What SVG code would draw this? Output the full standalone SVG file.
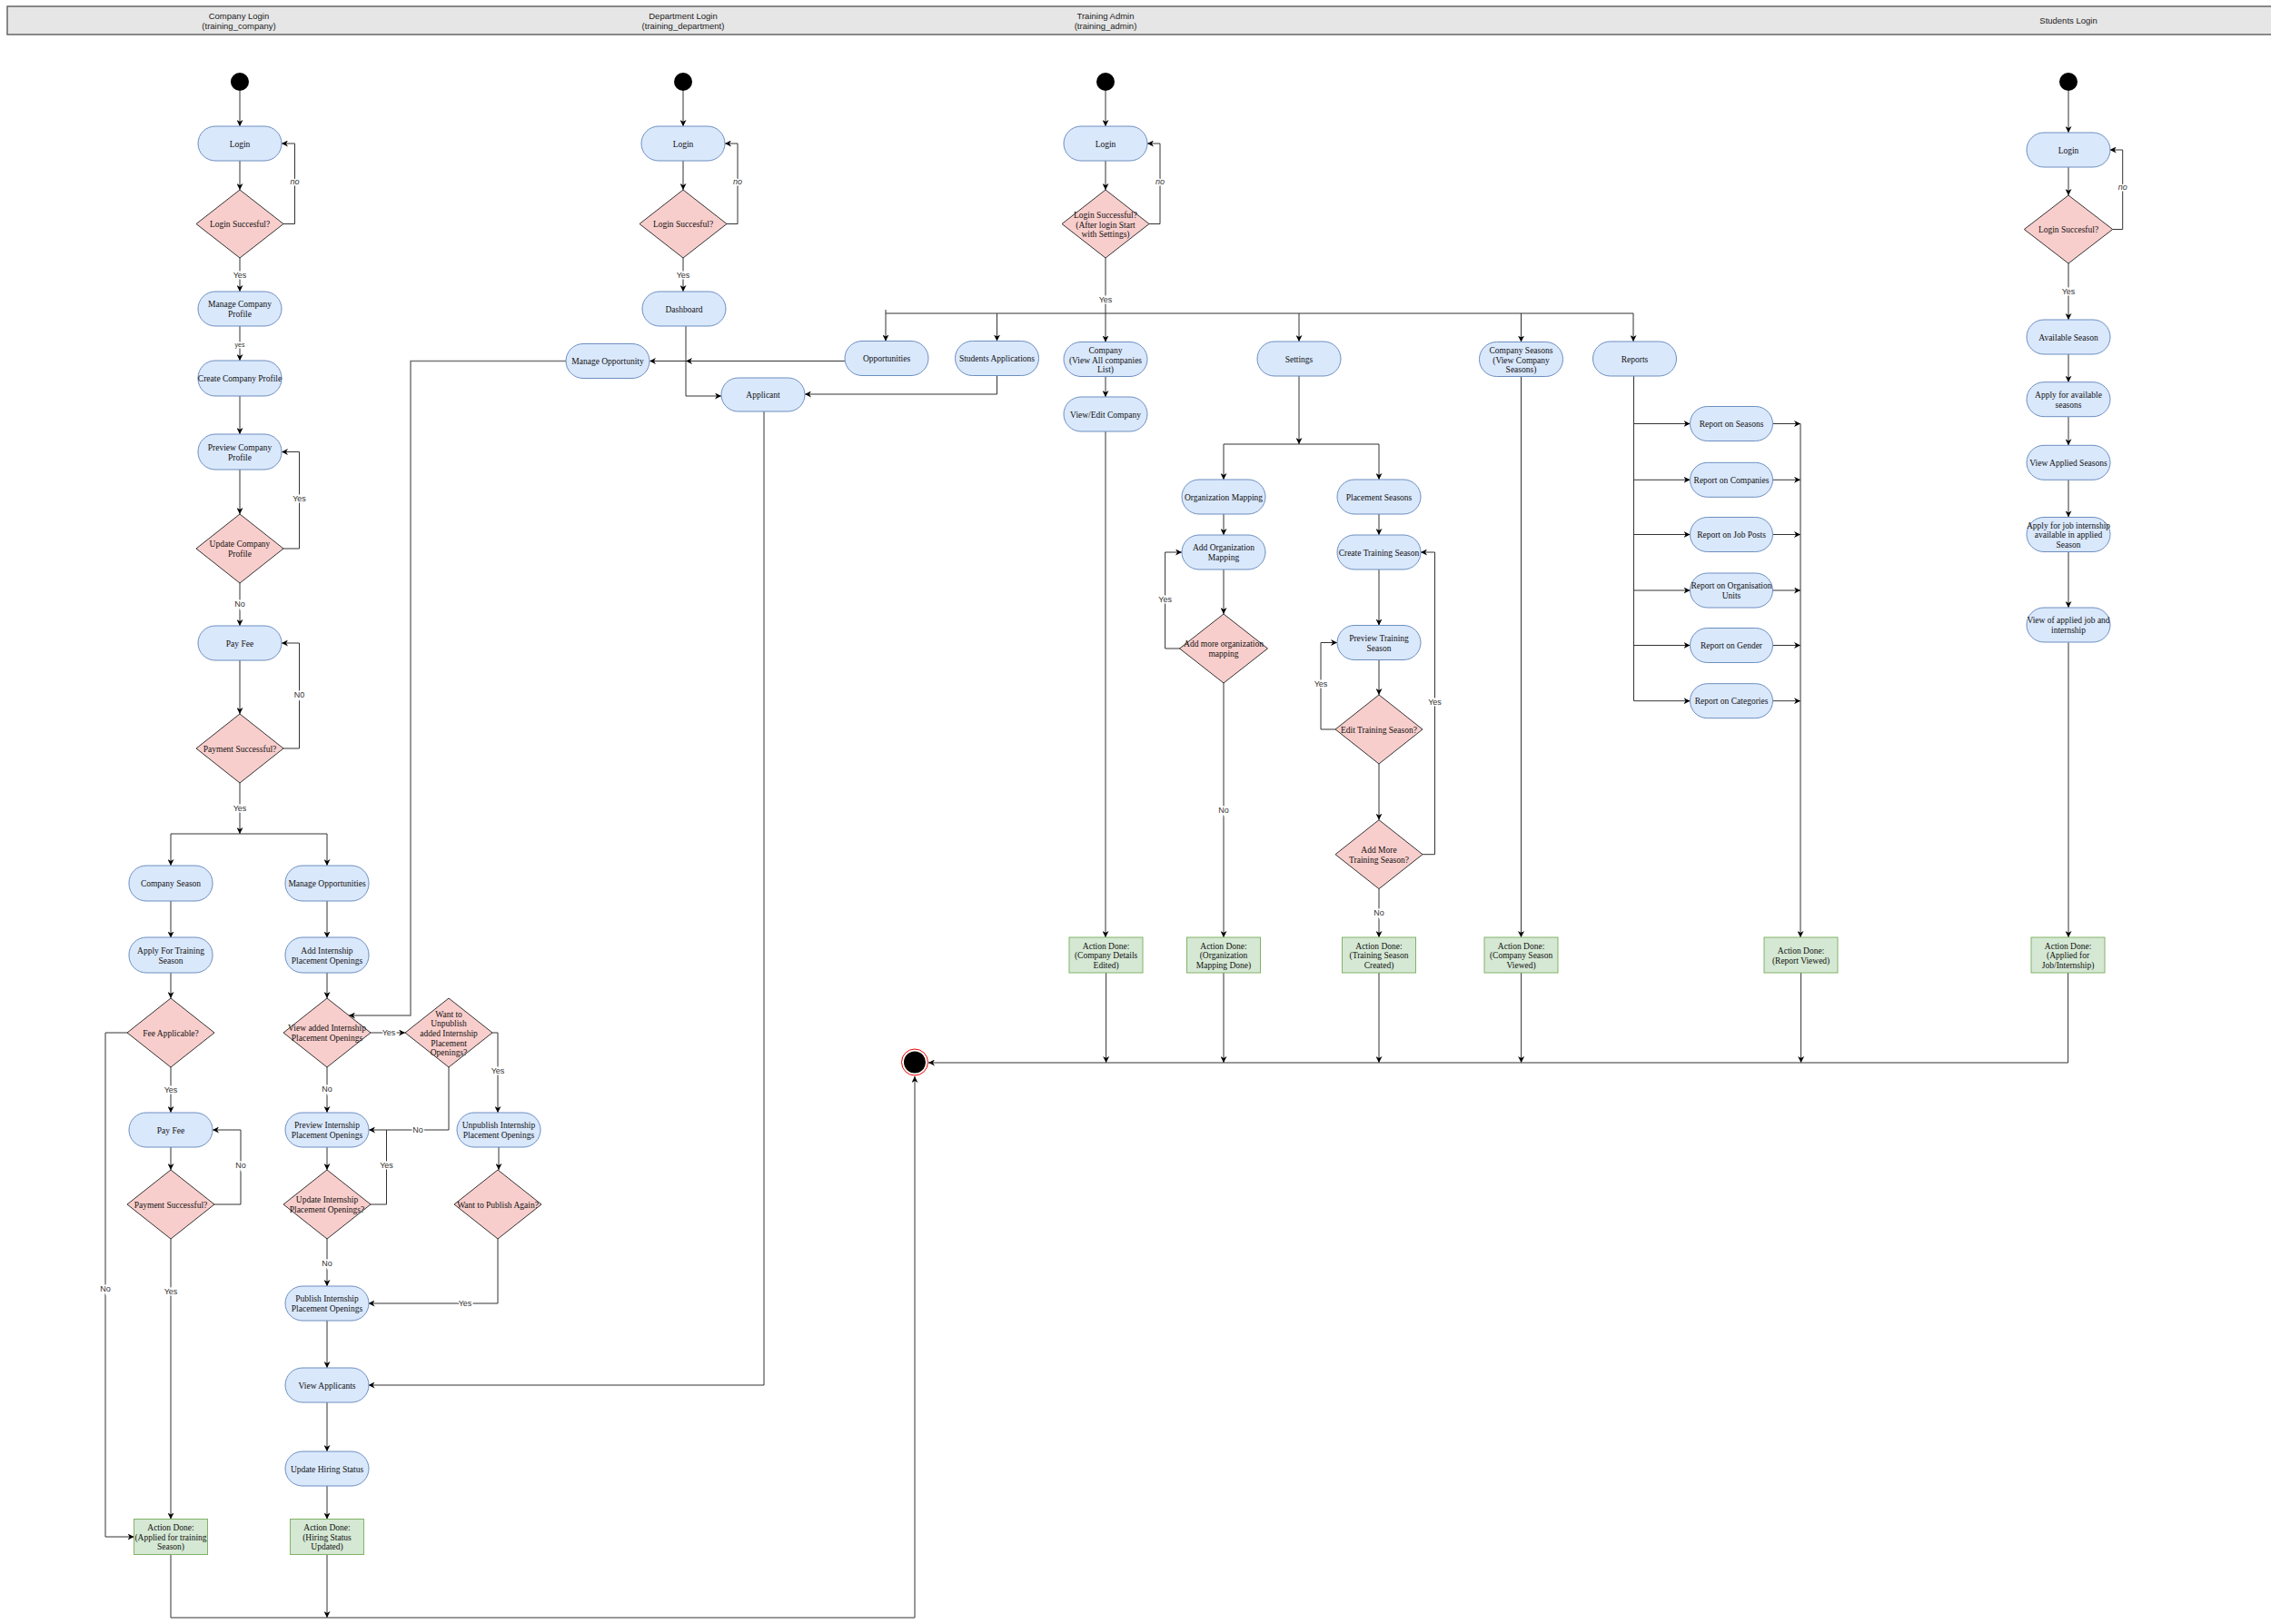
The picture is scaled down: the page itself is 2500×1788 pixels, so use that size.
<svg xmlns="http://www.w3.org/2000/svg" width="2500" height="1788" viewBox="0 0 2500 1788">
<style>
.act{fill:#dae8fc;stroke:#6c8ebf;stroke-width:1}
.dec{fill:#f8cecc;stroke:#333;stroke-width:1}
.done{fill:#d5e8d4;stroke:#82b366;stroke-width:1}
.t{font-family:"Liberation Serif",serif;font-size:9.5px;fill:#111;text-anchor:middle}
.h{font-family:"Liberation Sans",sans-serif;font-size:9.5px;fill:#222;text-anchor:middle}
.lb{font-family:"Liberation Sans",sans-serif;font-size:9px;fill:#333;text-anchor:middle;stroke:#fff;stroke-width:3px;paint-order:stroke}
.it{font-style:italic}
.c{fill:none;stroke:#333;stroke-width:1}
.ca{fill:none;stroke:#333;stroke-width:1;marker-end:url(#a)}
.cg{fill:none;stroke:#777;stroke-width:1.5;marker-end:url(#a)}
</style>
<defs>
<marker id="a" viewBox="0 0 10 10" refX="10" refY="5" markerWidth="7" markerHeight="7" markerUnits="userSpaceOnUse" orient="auto"><path d="M0,0 L10,5 L0,10 L3,5 z" fill="#000"/></marker>
</defs>
<rect width="2500" height="1788" fill="#fff"/>
<g id="header">
<rect x="8" y="7" width="2500" height="31" fill="#e6e6e6" stroke="#666" stroke-width="1.5"/>
<text class="h" x="263" y="21">Company Login</text><text class="h" x="263" y="32">(training_company)</text>
<text class="h" x="752" y="21">Department Login</text><text class="h" x="752" y="32">(training_department)</text>
<text class="h" x="1217" y="21">Training Admin</text><text class="h" x="1217" y="32">(training_admin)</text>
<text class="h" x="2277" y="26">Students Login</text>
</g>

<g id="connectors">
<!-- company -->
<path class="ca" d="M264,100 V139"/>
<path class="ca" d="M264,177 V209"/>
<path class="ca" d="M312,246.5 H324.5 V158 H310"/>
<path class="ca" d="M264,284 V321"/>
<path class="ca" d="M264,359 V397"/>
<path class="ca" d="M264,436 V478"/>
<path class="ca" d="M264,517 V566"/>
<path class="ca" d="M312,604 H329.5 V497.5 H310"/>
<path class="ca" d="M264,642 V689"/>
<path class="ca" d="M264,727 V786"/>
<path class="ca" d="M312,824 H329.5 V708 H310"/>
<path class="ca" d="M264,862 V918"/>
<path class="ca" d="M264,918 H188 V953"/>
<path class="ca" d="M264,918 H360 V953"/>
<path class="ca" d="M188,991.5 V1032.5"/>
<path class="ca" d="M360,991.5 V1032.5"/>
<path class="ca" d="M188,1070.5 V1099"/>
<path class="ca" d="M360,1070.5 V1099"/>
<path class="ca" d="M140,1137 H116 V1692 H147.5"/>
<path class="ca" d="M188,1175 V1225"/>
<path class="ca" d="M188,1263 V1288"/>
<path class="ca" d="M236,1326 H265 V1244 H234"/>
<path class="ca" d="M188,1364 V1672.5"/>
<path class="ca" d="M408,1137 H446"/>
<path class="ca" d="M360,1175 V1225"/>
<path class="ca" d="M494,1175 V1244 H406"/>
<path class="ca" d="M542,1137 H548 V1225"/>
<path class="ca" d="M360,1263 V1288"/>
<path class="c" d="M408,1326 H425.5 V1244"/>
<path class="ca" d="M549,1263 V1288"/>
<path class="ca" d="M360,1364 V1416"/>
<path class="ca" d="M548,1364 V1435 H405.5"/>
<path class="ca" d="M360,1454 V1506"/>
<path class="ca" d="M360,1544 V1598"/>
<path class="ca" d="M360,1636 V1672.5"/>
<path class="ca" d="M360,1711.5 V1781"/>
<path class="ca" d="M188,1711.5 V1781 H1007 V1185"/>
<!-- department -->
<path class="ca" d="M752,100 V139"/>
<path class="ca" d="M752,177 V209"/>
<path class="ca" d="M800,246.5 H812 V158 H798"/>
<path class="ca" d="M752,284 V321"/>
<path class="ca" d="M755,359 V436 H794"/>
<path class="ca" d="M930,397.5 H755"/>
<path class="ca" d="M755,397.5 H715"/>
<path class="cg" d="M623,397.5 H452 V1118 H384"/>
<path class="ca" d="M1097.5,413.5 V434 H886"/>
<path class="ca" d="M841,453 V1525 H405.5"/>
<!-- training admin -->
<path class="ca" d="M1217,100 V139"/>
<path class="ca" d="M1217,177 V209"/>
<path class="ca" d="M1265,246.5 H1277 V158 H1263"/>
<path class="ca" d="M1217,284 V376.5"/>
<path class="c" d="M975,341 V345 H1798"/>
<path class="ca" d="M975,345 V375.5"/>
<path class="ca" d="M1097.5,345 V375.5"/>
<path class="ca" d="M1430,345 V376"/>
<path class="ca" d="M1674.5,345 V376.5"/>
<path class="ca" d="M1798,345 V376"/>
<path class="ca" d="M1217,414.5 V437"/>
<path class="ca" d="M1217,475 V1032"/>
<path class="ca" d="M1430,414 V489"/>
<path class="c" d="M1347,489 H1518"/>
<path class="ca" d="M1347,489 V528"/>
<path class="ca" d="M1518,489 V528"/>
<path class="ca" d="M1347,566 V589"/>
<path class="ca" d="M1347,627 V676"/>
<path class="ca" d="M1299,714 H1282.6 V608 H1301"/>
<path class="ca" d="M1347,752 V1032"/>
<path class="ca" d="M1518,566 V589"/>
<path class="ca" d="M1518,627 V688.5"/>
<path class="ca" d="M1518,726.5 V765"/>
<path class="ca" d="M1470,803 H1454 V707.5 H1472"/>
<path class="ca" d="M1518,841 V902.7"/>
<path class="ca" d="M1566,940.7 H1579.5 V608 H1564"/>
<path class="ca" d="M1518,978.6 V1032"/>
<path class="ca" d="M1674.5,414.5 V1032"/>
<path class="c" d="M1798.5,414 V771.7"/>
<path class="ca" d="M1798.5,466.5 H1860.5"/>
<path class="ca" d="M1798.5,528.3 H1860.5"/>
<path class="ca" d="M1798.5,588.5 H1860.5"/>
<path class="ca" d="M1798.5,650 H1860.5"/>
<path class="ca" d="M1798.5,710.5 H1860.5"/>
<path class="ca" d="M1798.5,771.7 H1860.5"/>
<path class="ca" d="M1951.5,466.5 H1982"/>
<path class="ca" d="M1951.5,528.3 H1982"/>
<path class="ca" d="M1951.5,588.5 H1982"/>
<path class="ca" d="M1951.5,650 H1982"/>
<path class="ca" d="M1951.5,710.5 H1982"/>
<path class="ca" d="M1951.5,771.7 H1982"/>
<path class="ca" d="M1982,466.5 V1032"/>
<path class="ca" d="M1217.6,1071 V1170"/>
<path class="ca" d="M1347,1071 V1170"/>
<path class="ca" d="M1518,1071 V1170"/>
<path class="ca" d="M1674.6,1071 V1170"/>
<path class="ca" d="M1982.6,1071 V1170"/>
<path class="ca" d="M2276.6,1071 V1170 H1022"/>
<!-- students -->
<path class="ca" d="M2277,100 V146"/>
<path class="ca" d="M2277,184 V215"/>
<path class="ca" d="M2325.7,252.5 H2336.7 V165 H2322.7"/>
<path class="ca" d="M2277,290 V352"/>
<path class="ca" d="M2277,390 V420.7"/>
<path class="ca" d="M2277,459 V490.3"/>
<path class="ca" d="M2277,528.3 V569.3"/>
<path class="ca" d="M2277,607.7 V669"/>
<path class="ca" d="M2277,707.3 V1032"/>
<!-- labels -->
<text class="lb it" x="324.5" y="203">no</text>
<text class="lb" x="264" y="306">Yes</text>
<text class="lb" x="264" y="382" style="font-size:7px">yes</text>
<text class="lb" x="329.5" y="552">Yes</text>
<text class="lb" x="264" y="668">No</text>
<text class="lb" x="329.5" y="768">N0</text>
<text class="lb" x="264" y="893">Yes</text>
<text class="lb" x="116" y="1422">No</text>
<text class="lb" x="188" y="1203">Yes</text>
<text class="lb" x="265" y="1286">No</text>
<text class="lb" x="188" y="1425">Yes</text>
<text class="lb" x="428" y="1140">Yes</text>
<text class="lb" x="360" y="1202">No</text>
<text class="lb" x="460" y="1247">No</text>
<text class="lb" x="548" y="1182">Yes</text>
<text class="lb" x="425.5" y="1286">Yes</text>
<text class="lb" x="360" y="1394">No</text>
<text class="lb" x="512" y="1438">Yes</text>
<text class="lb it" x="812" y="203">no</text>
<text class="lb" x="752" y="306">Yes</text>
<text class="lb it" x="1277" y="203">no</text>
<text class="lb" x="1217" y="333">Yes</text>
<text class="lb" x="1282.6" y="663">Yes</text>
<text class="lb" x="1347" y="895">No</text>
<text class="lb" x="1454" y="756">Yes</text>
<text class="lb" x="1579.5" y="776">Yes</text>
<text class="lb" x="1518" y="1008">No</text>
<text class="lb it" x="2336.7" y="209">no</text>
<text class="lb" x="2277" y="324">Yes</text>
</g>

<!-- company lane -->
<g id="c_start"><circle cx="264" cy="90" r="10" fill="#000"/></g>
<g id="c_login"><rect class="act" x="218" y="139" width="92" height="38" rx="19"/><text class="t" x="264" y="161.5">Login</text></g>
<g id="c_dec1"><path class="dec" d="M264,209 L312,246.5 L264,284 L216,246.5 Z"/><text class="t" x="264" y="250">Login Succesful?</text></g>
<g id="c_manage"><rect class="act" x="218" y="321" width="92" height="38" rx="19"/><text class="t" x="264" y="338">Manage Company</text><text class="t" x="264" y="349">Profile</text></g>
<g id="c_create"><rect class="act" x="218" y="397" width="92" height="39" rx="19"/><text class="t" x="264" y="420">Create Company Profile</text></g>
<g id="c_preview"><rect class="act" x="218" y="478" width="92" height="39" rx="19"/><text class="t" x="264" y="495.5">Preview Company</text><text class="t" x="264" y="506.5">Profile</text></g>
<g id="c_update"><path class="dec" d="M264,566 L312,604 L264,642 L216,604 Z"/><text class="t" x="264" y="602">Update Company</text><text class="t" x="264" y="613">Profile</text></g>
<g id="c_payfee"><rect class="act" x="218" y="689" width="92" height="38" rx="19"/><text class="t" x="264" y="711.5">Pay Fee</text></g>
<g id="c_paydec"><path class="dec" d="M264,786 L312,824 L264,862 L216,824 Z"/><text class="t" x="264" y="827.5">Payment Successful?</text></g>
<g id="c_season"><rect class="act" x="142" y="953" width="92" height="39" rx="19"/><text class="t" x="188" y="976">Company Season</text></g>
<g id="c_mopp"><rect class="act" x="314" y="953" width="92" height="39" rx="19"/><text class="t" x="360" y="976">Manage Opportunities</text></g>
<g id="c_apply"><rect class="act" x="142" y="1032" width="92" height="39" rx="19"/><text class="t" x="188" y="1049.5">Apply For Training</text><text class="t" x="188" y="1060.5">Season</text></g>
<g id="c_addint"><rect class="act" x="314" y="1032" width="92" height="39" rx="19"/><text class="t" x="360" y="1049.5">Add Internship</text><text class="t" x="360" y="1060.5">Placement Openings</text></g>
<g id="c_feedec"><path class="dec" d="M188,1099 L236,1137 L188,1175 L140,1137 Z"/><text class="t" x="188" y="1140.5">Fee Applicable?</text></g>
<g id="c_viewdec"><path class="dec" d="M360,1099 L408,1137 L360,1175 L312,1137 Z"/><text class="t" x="360" y="1135">View added Internship</text><text class="t" x="360" y="1146">Placement Openings</text></g>
<g id="c_unpubdec"><path class="dec" d="M494,1099 L542,1137 L494,1175 L446,1137 Z"/><text class="t" x="494" y="1119.5">Want to</text><text class="t" x="494" y="1130.2">Unpublish</text><text class="t" x="494" y="1140.9">added Internship</text><text class="t" x="494" y="1151.6">Placement</text><text class="t" x="494" y="1162.3">Openings?</text></g>
<g id="c_payfee2"><rect class="act" x="142" y="1225" width="92" height="38" rx="19"/><text class="t" x="188" y="1247.5">Pay Fee</text></g>
<g id="c_preview2"><rect class="act" x="314" y="1225" width="92" height="38" rx="19"/><text class="t" x="360" y="1242">Preview Internship</text><text class="t" x="360" y="1253">Placement Openings</text></g>
<g id="c_unpub"><rect class="act" x="503" y="1225" width="92" height="38" rx="19"/><text class="t" x="549" y="1242">Unpublish Internship</text><text class="t" x="549" y="1253">Placement Openings</text></g>
<g id="c_paydec2"><path class="dec" d="M188,1288 L236,1326 L188,1364 L140,1326 Z"/><text class="t" x="188" y="1329.5">Payment Successful?</text></g>
<g id="c_updint"><path class="dec" d="M360,1288 L408,1326 L360,1364 L312,1326 Z"/><text class="t" x="360" y="1324">Update Internship</text><text class="t" x="360" y="1335">Placement Openings?</text></g>
<g id="c_pubagain"><path class="dec" d="M548,1288 L596,1326 L548,1364 L500,1326 Z"/><text class="t" x="548" y="1329.5">Want to Publish Again?</text></g>
<g id="c_publish"><rect class="act" x="314" y="1416" width="92" height="38" rx="19"/><text class="t" x="360" y="1433">Publish Internship</text><text class="t" x="360" y="1444">Placement Openings</text></g>
<g id="c_viewapp"><rect class="act" x="314" y="1506" width="92" height="38" rx="19"/><text class="t" x="360" y="1528.5">View Applicants</text></g>
<g id="c_hiring"><rect class="act" x="314" y="1598" width="92" height="38" rx="19"/><text class="t" x="360" y="1620.5">Update Hiring Status</text></g>
<g id="c_done1"><rect class="done" x="147.5" y="1672.5" width="81" height="39"/><text class="t" x="188" y="1685">Action Done:</text><text class="t" x="188" y="1695.7">(Applied for training</text><text class="t" x="188" y="1706.4">Season)</text></g>
<g id="c_done2"><rect class="done" x="319.5" y="1672.5" width="81" height="39"/><text class="t" x="360" y="1685">Action Done:</text><text class="t" x="360" y="1695.7">(Hiring Status</text><text class="t" x="360" y="1706.4">Updated)</text></g>

<!-- department lane -->
<g id="d_start"><circle cx="752" cy="90" r="10" fill="#000"/></g>
<g id="d_login"><rect class="act" x="706" y="139" width="92" height="38" rx="19"/><text class="t" x="752" y="161.5">Login</text></g>
<g id="d_dec"><path class="dec" d="M752,209 L800,246.5 L752,284 L704,246.5 Z"/><text class="t" x="752" y="250">Login Succesful?</text></g>
<g id="d_dash"><rect class="act" x="707" y="321" width="92" height="38" rx="19"/><text class="t" x="753" y="343.5">Dashboard</text></g>
<g id="d_mopp"><rect class="act" x="623" y="378.5" width="92" height="38" rx="19"/><text class="t" x="669" y="401">Manage Opportunity</text></g>
<g id="d_opps"><rect class="act" x="930" y="375.5" width="92" height="38" rx="19"/><text class="t" x="976" y="398">Opportunities</text></g>
<g id="d_stuapps"><rect class="act" x="1051.5" y="375.5" width="92" height="38" rx="19"/><text class="t" x="1097.5" y="398">Students Applications</text></g>
<g id="d_applicant"><rect class="act" x="794" y="416" width="92" height="37" rx="18.5"/><text class="t" x="840" y="438">Applicant</text></g>

<!-- training admin lane -->
<g id="t_start"><circle cx="1217" cy="90" r="10" fill="#000"/></g>
<g id="t_login"><rect class="act" x="1171" y="139" width="92" height="38" rx="19"/><text class="t" x="1217" y="161.5">Login</text></g>
<g id="t_dec"><path class="dec" d="M1217,209 L1265,246.5 L1217,284 L1169,246.5 Z"/><text class="t" x="1217" y="239.8">Login Successful?</text><text class="t" x="1217" y="250.5">(After login Start</text><text class="t" x="1217" y="261.2">with Settings)</text></g>
<g id="t_company"><rect class="act" x="1171" y="376.5" width="92" height="38" rx="19"/><text class="t" x="1217" y="388.8">Company</text><text class="t" x="1217" y="399.5">(View All companies</text><text class="t" x="1217" y="410.2">List)</text></g>
<g id="t_viewedit"><rect class="act" x="1171" y="437" width="92" height="38" rx="19"/><text class="t" x="1217" y="459.5">View/Edit Company</text></g>
<g id="t_settings"><rect class="act" x="1384" y="376" width="92" height="38" rx="19"/><text class="t" x="1430" y="398.5">Settings</text></g>
<g id="t_cseasons"><rect class="act" x="1628.5" y="376.5" width="92" height="38" rx="19"/><text class="t" x="1674.5" y="388.8">Company Seasons</text><text class="t" x="1674.5" y="399.5">(View Company</text><text class="t" x="1674.5" y="410.2">Seasons)</text></g>
<g id="t_reports"><rect class="act" x="1753.5" y="376" width="92" height="38" rx="19"/><text class="t" x="1799.5" y="398.5">Reports</text></g>
<g id="t_orgmap"><rect class="act" x="1301" y="528" width="92" height="38" rx="19"/><text class="t" x="1347" y="550.5">Organization Mapping</text></g>
<g id="t_placement"><rect class="act" x="1472" y="528" width="92" height="38" rx="19"/><text class="t" x="1518" y="550.5">Placement Seasons</text></g>
<g id="t_addorg"><rect class="act" x="1301" y="589" width="92" height="38" rx="19"/><text class="t" x="1347" y="606">Add Organization</text><text class="t" x="1347" y="617">Mapping</text></g>
<g id="t_create"><rect class="act" x="1472" y="589" width="92" height="38" rx="19"/><text class="t" x="1518" y="611.5">Create Training Season</text></g>
<g id="t_orgdec"><path class="dec" d="M1347,676 L1395.5,714 L1347,752 L1298.5,714 Z"/><text class="t" x="1347" y="712">Add more organization</text><text class="t" x="1347" y="723">mapping</text></g>
<g id="t_previewts"><rect class="act" x="1472" y="688.5" width="92" height="38" rx="19"/><text class="t" x="1518" y="705.5">Preview Training</text><text class="t" x="1518" y="716.5">Season</text></g>
<g id="t_editdec"><path class="dec" d="M1518,765 L1566,803 L1518,841 L1470,803 Z"/><text class="t" x="1518" y="806.5">Edit Training Season?</text></g>
<g id="t_moredec"><path class="dec" d="M1518,902.7 L1566,940.7 L1518,978.6 L1470,940.7 Z"/><text class="t" x="1518" y="938.5">Add More</text><text class="t" x="1518" y="949.5">Training Season?</text></g>
<g id="r_seasons"><rect class="act" x="1860.5" y="447.5" width="91" height="38" rx="19"/><text class="t" x="1906" y="470">Report on Seasons</text></g>
<g id="r_companies"><rect class="act" x="1860.5" y="509.3" width="91" height="38" rx="19"/><text class="t" x="1906" y="531.8">Report on Companies</text></g>
<g id="r_jobposts"><rect class="act" x="1860.5" y="569.5" width="91" height="38" rx="19"/><text class="t" x="1906" y="592">Report on Job Posts</text></g>
<g id="r_orgunits"><rect class="act" x="1860.5" y="631" width="91" height="38" rx="19"/><text class="t" x="1906" y="648">Report on Organisation</text><text class="t" x="1906" y="659">Units</text></g>
<g id="r_gender"><rect class="act" x="1860.5" y="691.5" width="91" height="38" rx="19"/><text class="t" x="1906" y="714">Report on Gender</text></g>
<g id="r_categories"><rect class="act" x="1860.5" y="752.7" width="91" height="38" rx="19"/><text class="t" x="1906" y="775.2">Report on Categories</text></g>
<g id="t_done1"><rect class="done" x="1177" y="1032" width="81" height="39"/><text class="t" x="1217.6" y="1044.5">Action Done:</text><text class="t" x="1217.6" y="1055.2">(Company Details</text><text class="t" x="1217.6" y="1065.9">Edited)</text></g>
<g id="t_done2"><rect class="done" x="1306.5" y="1032" width="81" height="39"/><text class="t" x="1347" y="1044.5">Action Done:</text><text class="t" x="1347" y="1055.2">(Organization</text><text class="t" x="1347" y="1065.9">Mapping Done)</text></g>
<g id="t_done3"><rect class="done" x="1477.5" y="1032" width="81" height="39"/><text class="t" x="1518" y="1044.5">Action Done:</text><text class="t" x="1518" y="1055.2">(Training Season</text><text class="t" x="1518" y="1065.9">Created)</text></g>
<g id="t_done4"><rect class="done" x="1634" y="1032" width="81" height="39"/><text class="t" x="1674.6" y="1044.5">Action Done:</text><text class="t" x="1674.6" y="1055.2">(Company Season</text><text class="t" x="1674.6" y="1065.9">Viewed)</text></g>
<g id="t_done5"><rect class="done" x="1942" y="1032" width="81" height="39"/><text class="t" x="1982.6" y="1049.5">Action Done:</text><text class="t" x="1982.6" y="1060.5">(Report Viewed)</text></g>

<!-- students lane -->
<g id="s_start"><circle cx="2277" cy="90" r="10" fill="#000"/></g>
<g id="s_login"><rect class="act" x="2231" y="146" width="92" height="38" rx="19"/><text class="t" x="2277" y="168.5">Login</text></g>
<g id="s_dec"><path class="dec" d="M2277,215 L2325.7,252.5 L2277,290 L2228.3,252.5 Z"/><text class="t" x="2277" y="256">Login Succesful?</text></g>
<g id="s_avail"><rect class="act" x="2231" y="352" width="92" height="38" rx="19"/><text class="t" x="2277" y="374.5">Available Season</text></g>
<g id="s_apply"><rect class="act" x="2231" y="420.7" width="92" height="38" rx="19"/><text class="t" x="2277" y="437.7">Apply for available</text><text class="t" x="2277" y="448.7">seasons</text></g>
<g id="s_viewapplied"><rect class="act" x="2231" y="490.3" width="92" height="38" rx="19"/><text class="t" x="2277" y="512.8">View Applied Seasons</text></g>
<g id="s_applyjob"><rect class="act" x="2231" y="569.5" width="92" height="38" rx="19"/><text class="t" x="2277" y="581.5">Apply for job internship</text><text class="t" x="2277" y="592.2">available in applied</text><text class="t" x="2277" y="602.9">Season</text></g>
<g id="s_viewjob"><rect class="act" x="2231" y="669" width="92" height="38" rx="19"/><text class="t" x="2277" y="686">View of applied job and</text><text class="t" x="2277" y="697">internship</text></g>
<g id="s_done"><rect class="done" x="2236" y="1032" width="81" height="39"/><text class="t" x="2276.6" y="1044.5">Action Done:</text><text class="t" x="2276.6" y="1055.2">(Applied for</text><text class="t" x="2276.6" y="1065.9">Job/Internship)</text></g>

<g id="final"><circle cx="1007" cy="1169.5" r="14.5" fill="#fff" stroke="#e00" stroke-width="1"/><circle cx="1007" cy="1169.5" r="12" fill="#000"/></g>
</svg>
